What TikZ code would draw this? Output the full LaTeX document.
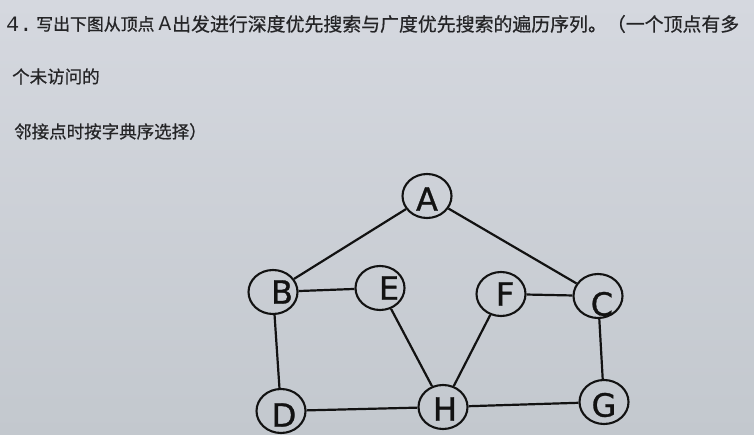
\documentclass[tikz,border=0pt]{standalone}
\usepackage{fontspec}
\setmainfont{Liberation Serif}
\newfontfamily\cjk{Noto Sans CJK SC}[FakeBold=0.6]
\newfontfamily\lat{Liberation Mono}
\newfontfamily\lab{DejaVu Sans}[FakeBold=1]
\usetikzlibrary{shapes.geometric}
\definecolor{papertop}{HTML}{D5D8DF}
\definecolor{paperbot}{HTML}{C3C8CE}
\definecolor{ink}{HTML}{121212}
\definecolor{textc}{HTML}{242426}
\begin{document}
\begin{tikzpicture}[x=1pt,y=-1pt,
  vtx/.style={ellipse,draw=ink,line width=2.1pt,minimum width=49pt,minimum height=44pt,inner sep=0pt},
  lbl/.style={font=\lab\fontsize{32}{32}\selectfont,text=ink,inner sep=0pt},
  edge/.style={draw=ink,line width=2.2pt},
  txt/.style={font=\cjk\fontsize{18.5}{18.5}\selectfont,text=textc,inner sep=0pt,anchor=west}]
\useasboundingbox (0,0) rectangle (754,435);
\shade[top color=papertop,bottom color=paperbot] (0,0) rectangle (754,435);

% question text
\node[txt,font=\lat\fontsize{22}{22}\selectfont] (t1) at (6,24) {4.};
\node[txt,font=\cjk\fontsize{16.9}{16.9}\selectfont] (t2) at (36,24) {写出下图从顶点};
\node[txt,font=\lat\fontsize{21}{21}\selectfont] (t3) at (158.5,24) {A};
\node[txt,font=\cjk\fontsize{18.9}{18.9}\selectfont] (t4) at (172,24) {出发进行深度优先搜索与广度优先搜索的遍历序列。（一个顶点有多};
\node[txt,font=\cjk\fontsize{17.5}{17.5}\selectfont] (t5) at (12,76.5) {个未访问的};
\node[txt,font=\cjk\fontsize{17.5}{17.5}\selectfont] (t6) at (14,131.5) {邻接点时按字典序选择）};

% vertices
\node[vtx,label={[lbl,shift={(0,3)}]center:A}] (A) at (427,196) {};
\node[vtx,label={[lbl,shift={(9,0)}]center:B}] (B) at (273,292) {};
\node[vtx,label={[lbl,shift={(9,0)}]center:E}] (E) at (380,288) {};
\node[vtx,label={[lbl,shift={(4,0)}]center:F}] (F) at (501,294) {};
\node[vtx,label={[lbl,shift={(4,8)}]center:C}] (C) at (598,296) {};
\node[vtx,label={[lbl,shift={(3,4)}]center:D}] (D) at (281,411) {};
\node[vtx,label={[lbl,shift={(2,2)}]center:H}] (H) at (443,407) {};
\node[vtx,label={[lbl,shift={(0,3)}]center:G}] (G) at (604,402) {};

% edges
\draw[edge] (A) -- (B);
\draw[edge] (A) -- (C);
\draw[edge] (B) -- (E);
\draw[edge] (B) -- (D);
\draw[edge] (E) -- (H);
\draw[edge] (F) -- (H);
\draw[edge] (F) -- (C);
\draw[edge] (C) -- (G);
\draw[edge] (D) -- (H);
\draw[edge] (H) -- (G);
\end{tikzpicture}
\end{document}
